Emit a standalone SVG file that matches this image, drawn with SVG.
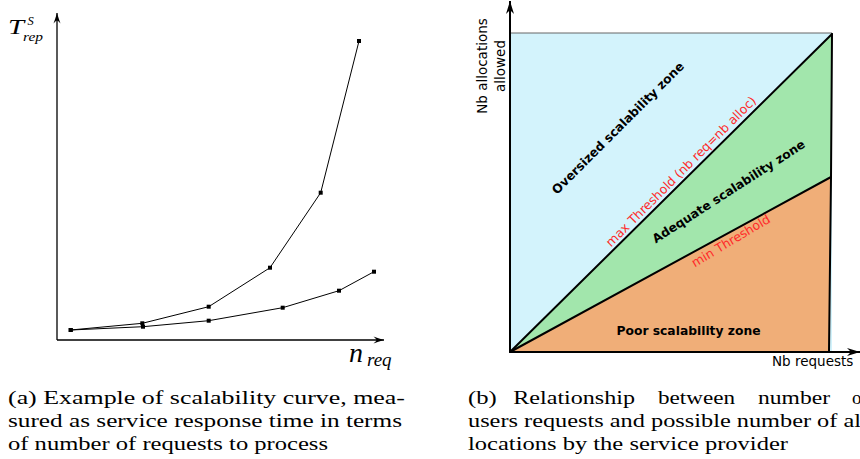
<svg xmlns="http://www.w3.org/2000/svg" width="860" height="459" viewBox="0 0 860 459">
<style>
.cap{font-family:"Liberation Serif","DejaVu Serif",serif;font-size:19px;fill:#000}
.math{font-family:"Liberation Serif","DejaVu Serif",serif;font-style:italic;fill:#000}
.lbl{font-family:"DejaVu Sans",sans-serif;font-size:13.5px;fill:#000}
.zone{font-family:"DejaVu Sans",sans-serif;font-size:12.3px;font-weight:bold;fill:#000}
.thr{font-family:"DejaVu Sans",sans-serif;font-size:12.5px;fill:#ff2a2a}
.axis{stroke:#000;stroke-width:1.3;fill:none}
.curve{stroke:#000;stroke-width:1;fill:none;marker-start:url(#sq);marker-mid:url(#sq);marker-end:url(#sq)}
.bd{stroke:#000;stroke-width:2;fill:none;stroke-linecap:round}
</style>
<defs>
<marker id="sq" markerUnits="userSpaceOnUse" markerWidth="6" markerHeight="6" refX="3" refY="3" orient="0">
<rect x="1" y="1" width="4" height="4" fill="#000"/>
</marker>
<marker id="ah" markerUnits="userSpaceOnUse" markerWidth="12" markerHeight="8" refX="11" refY="4" orient="auto">
<path d="M11,4 Q5,2.2 0.5,0.5 Q3.5,3 3.5,4 Q3.5,5 0.5,7.5 Q5,5.8 11,4 Z" fill="#000"/>
</marker>
<marker id="ah2" markerUnits="userSpaceOnUse" markerWidth="14" markerHeight="9" refX="13" refY="4.5" orient="auto">
<path d="M13,4.5 L0,0.5 L4,4.5 L0,8.5 Z" fill="#000"/>
</marker>
</defs>

<g id="left-plot">
<g id="left-axes">
<line class="axis" x1="57" y1="340" x2="57" y2="13" marker-end="url(#ah)"/>
<line class="axis" x1="57" y1="340" x2="384" y2="340" marker-end="url(#ah)"/>
</g>
<g id="left-curves">
<polyline class="curve" points="70.7,330 142.3,323.3 208.7,306.7 270,267.7 320.7,192.7 359,41"/>
<polyline class="curve" points="70.7,330 143,326.7 208.7,320.7 282.7,307.7 339,290.7 374,271.7"/>
</g>
<g id="left-labels">
<text class="math" x="8" y="34" font-size="20" textLength="16" lengthAdjust="spacingAndGlyphs">T</text>
<text class="math" x="27.5" y="25" font-size="12.5">S</text>
<text class="math" x="23" y="40.5" font-size="13.5" textLength="20" lengthAdjust="spacingAndGlyphs">rep</text>
<text class="math" x="349" y="362" font-size="28">n</text>
<text class="math" x="367" y="366" font-size="19">req</text>
</g>
</g>

<g id="right-plot">
<g id="zones">
<rect id="zone-oversized" x="510" y="33" width="322" height="319" fill="#d3f3fc"/>
<polygon id="zone-adequate" points="510,352 832,34 832,177" fill="#a2e6ac"/>
<polygon id="zone-poor" points="510,352 831,177 829,352" fill="#f0ae78"/>
<line x1="510" y1="33" x2="832" y2="33" stroke="#666" stroke-width="1"/>
</g>
<g id="connectors">
<line class="bd" x1="510" y1="352" x2="832" y2="34"/>
<line class="bd" x1="510" y1="352" x2="831" y2="177"/>
<polyline class="bd" points="832,34 831,177 829,352"/>
<line x1="510" y1="352" x2="510" y2="1" stroke="#000" stroke-width="2" marker-end="url(#ah2)"/>
<line x1="510" y1="352" x2="860" y2="352" stroke="#000" stroke-width="2" marker-end="url(#ah2)"/>
</g>
<g id="zone-labels">
<text class="zone" text-anchor="middle" transform="translate(621,131) rotate(-45)">Oversized scalability zone</text>
<text class="zone" text-anchor="middle" transform="translate(731,195) rotate(-32.8)">Adequate scalability zone</text>
<text class="zone" text-anchor="middle" x="688.5" y="334.5">Poor scalability zone</text>
<text class="thr" text-anchor="middle" transform="translate(684,174.5) rotate(-45)">max Threshold (nb req=nb alloc)</text>
<text class="thr" text-anchor="middle" transform="translate(733,244.5) rotate(-31)">min Threshold</text>
</g>
<g id="axis-labels">
<text class="lbl" text-anchor="middle" transform="translate(487,66) rotate(-90)">Nb allocations</text>
<text class="lbl" text-anchor="middle" transform="translate(505,66) rotate(-90)">allowed</text>
<text class="lbl" x="772" y="366">Nb requests</text>
</g>
</g>

<g id="captions">
<text class="cap" x="8" y="404" textLength="397" lengthAdjust="spacingAndGlyphs">(a) Example of scalability curve, mea-</text>
<text class="cap" x="8" y="427" textLength="394" lengthAdjust="spacingAndGlyphs">sured as service response time in terms</text>
<text class="cap" x="8" y="450" textLength="320" lengthAdjust="spacingAndGlyphs">of number of requests to process</text>
<text class="cap" x="468" y="404" textLength="28.7" lengthAdjust="spacingAndGlyphs">(b)</text>
<text class="cap" x="513.3" y="404" textLength="121.7" lengthAdjust="spacingAndGlyphs">Relationship</text>
<text class="cap" x="658" y="404" textLength="77" lengthAdjust="spacingAndGlyphs">between</text>
<text class="cap" x="758" y="404" textLength="72" lengthAdjust="spacingAndGlyphs">number</text>
<text class="cap" x="852" y="404" textLength="9.5" lengthAdjust="spacingAndGlyphs">o</text>
<text class="cap" x="468" y="427" textLength="393" lengthAdjust="spacingAndGlyphs">users requests and possible number of al</text>
<text class="cap" x="468" y="450" textLength="320" lengthAdjust="spacingAndGlyphs">locations by the service provider</text>
</g>
</svg>
